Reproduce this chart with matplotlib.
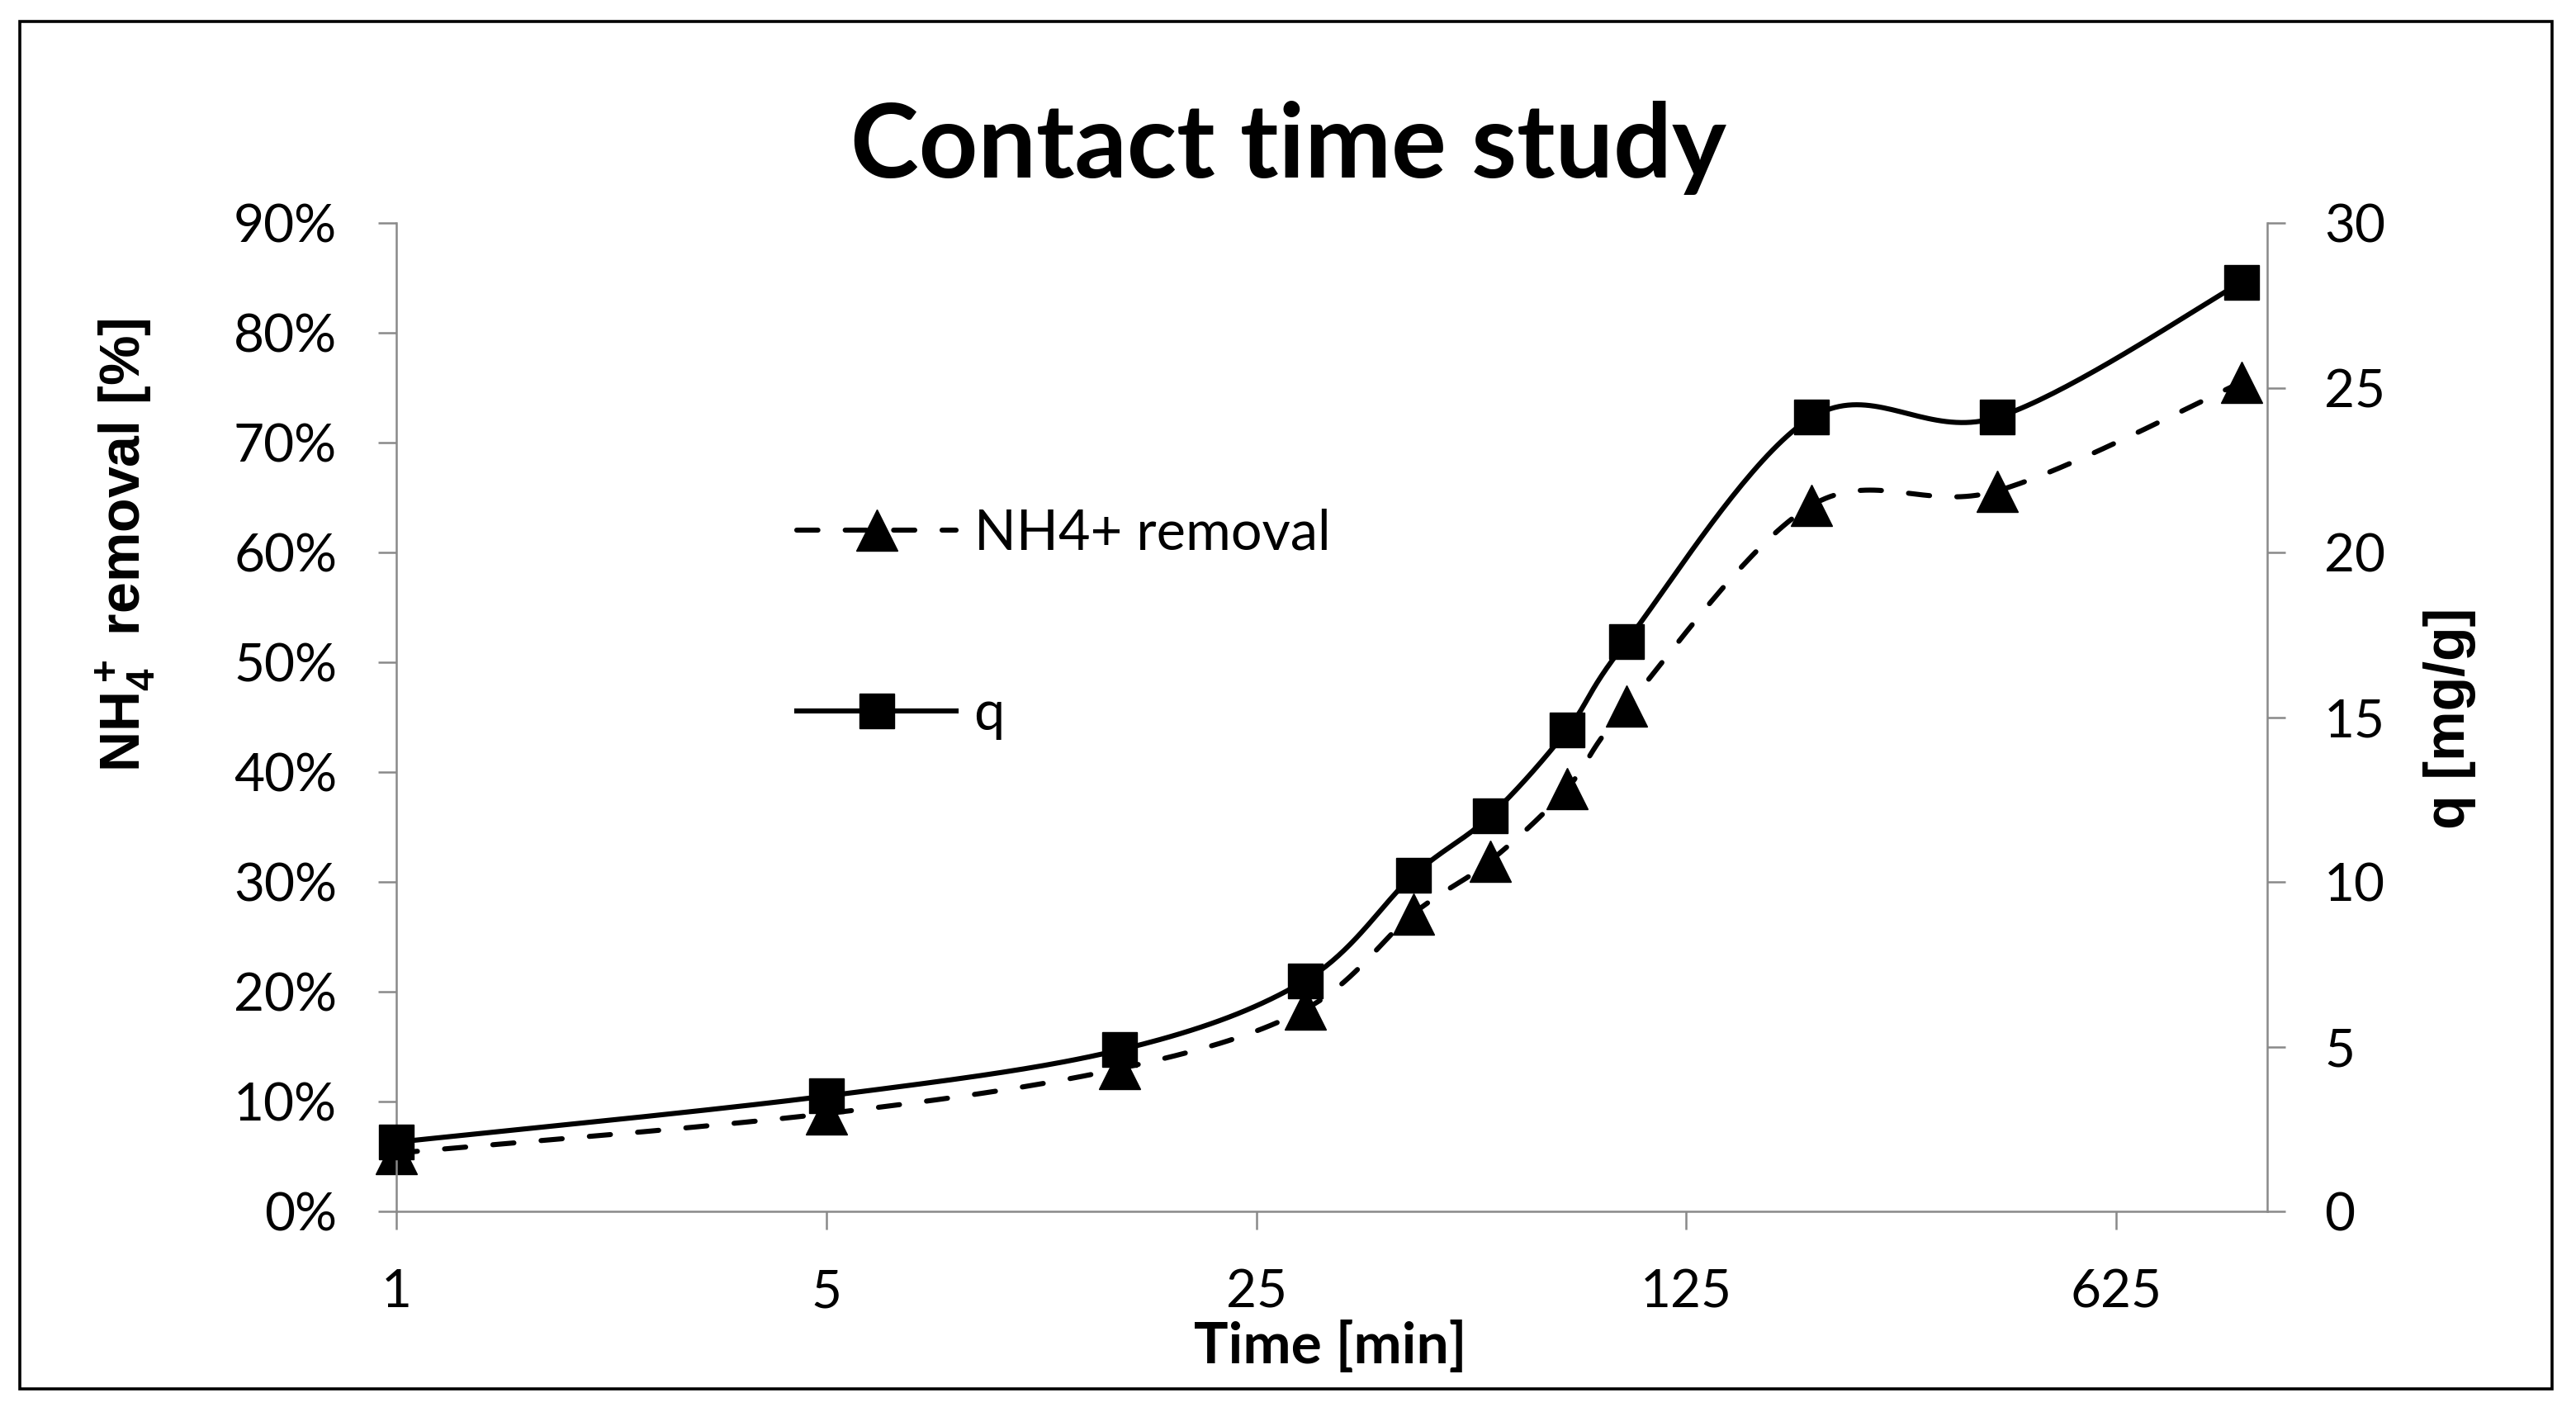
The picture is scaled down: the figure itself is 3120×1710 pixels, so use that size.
"""
Contact time study: NH4+ removal and uptake q versus contact time.
Two y axes (percent removal on the left, q in mg/g on the right),
log-5 time axis, Excel-style smoothed lines.
"""

import numpy as np
import matplotlib
matplotlib.use("Agg")
import matplotlib.pyplot as plt
from matplotlib.patches import Rectangle
from matplotlib.ticker import FixedLocator, FuncFormatter, NullLocator

# ──────────────────────────────────────────
# Data
# ──────────────────────────────────────────
TIME_MIN = [1, 5, 15, 30, 45, 60, 80, 100, 200, 400, 1000]
REMOVAL_PCT = [5.3, 8.9, 13.0, 18.4, 27.1, 31.9, 38.5, 46.0, 64.3, 65.6, 75.5]
Q_MG_G = [2.1, 3.5, 4.9, 7.0, 10.2, 12.0, 14.6, 17.3, 24.1, 24.1, 28.2]

X_TICKS = [1, 5, 25, 125, 625]
LEFT_TICKS = [0, 10, 20, 30, 40, 50, 60, 70, 80, 90]
RIGHT_TICKS = [0, 5, 10, 15, 20, 25, 30]

TITLE = "Contact time study"
X_LABEL = "Time [min]"
LEFT_LABEL = r"NH$\mathregular{_4^+}$ removal [%]"
RIGHT_LABEL = "q [mg/g]"
SERIES_LABELS = ["NH4+ removal", "q"]

# ──────────────────────────────────────────
# Style
# ──────────────────────────────────────────
W_PX, H_PX, DPI = 3120, 1710, 200
AXIS_GREY = "#898989"
TEXT_FONT = "Lato"
LABEL_FONT = "Liberation Sans"

plt.rcParams["font.family"] = [TEXT_FONT, "DejaVu Sans"]
plt.rcParams["mathtext.default"] = "regular"


def excel_smooth(x, y, n=40):
    """Bezier smoothing like Excel's 'smoothed line' (done in log-x space)."""
    p = np.column_stack([np.log10(x), np.asarray(y, dtype=float)])
    segs = []
    for i in range(len(p) - 1):
        p0 = p[i - 1] if i > 0 else p[i]
        p1, p2 = p[i], p[i + 1]
        p3 = p[i + 2] if i + 2 < len(p) else p[i + 1]
        c1 = p1 + (p2 - p0) / 6.0
        c2 = p2 - (p3 - p1) / 6.0
        t = np.linspace(0, 1, n, endpoint=False)[:, None]
        segs.append((1 - t) ** 3 * p1 + 3 * (1 - t) ** 2 * t * c1
                    + 3 * (1 - t) * t ** 2 * c2 + t ** 3 * p2)
    segs.append(p[-1:])
    curve = np.vstack(segs)
    marks = [i * n for i in range(len(p))]
    return 10 ** curve[:, 0], curve[:, 1], marks


def px_x(v):
    return v / W_PX


def px_y(v):
    return 1 - v / H_PX


fig = plt.figure(figsize=(W_PX / DPI, H_PX / DPI), dpi=DPI)
ax = fig.add_axes([px_x(480), px_y(1467), (2746 - 480) / W_PX, (1467 - 270) / H_PX])
ax2 = ax.twinx()

# removal (left axis), dashed with triangles
sx, sy, marks = excel_smooth(TIME_MIN, REMOVAL_PCT)
line_rem, = ax.plot(sx, sy, color="black", lw=2.2, linestyle=(0, (4.2, 5.4)),
                    dash_capstyle="round", marker="^", markersize=18,
                    markevery=marks, markerfacecolor="black",
                    markeredgecolor="black", markeredgewidth=0.5,
                    label=SERIES_LABELS[0], clip_on=False)

# q (right axis), solid with squares
sx, sy, marks = excel_smooth(TIME_MIN, Q_MG_G)
line_q, = ax2.plot(sx, sy, color="black", lw=2.2, linestyle="-",
                   marker="s", markersize=15, markevery=marks,
                   markerfacecolor="black", markeredgecolor="black",
                   markeredgewidth=0.5, label=SERIES_LABELS[1], clip_on=False)

# x axis: log base 5
ax.set_xscale("log", base=5)
ax.set_xlim(1, 1100)
ax.xaxis.set_major_locator(FixedLocator(X_TICKS))
ax.xaxis.set_minor_locator(NullLocator())
ax.xaxis.set_major_formatter(FuncFormatter(lambda v, _: f"{v:g}"))

ax.set_ylim(0, 90)
ax.yaxis.set_major_locator(FixedLocator(LEFT_TICKS))
ax.yaxis.set_major_formatter(FuncFormatter(lambda v, _: f"{v:.0f}%"))
ax2.set_ylim(0, 30)
ax2.yaxis.set_major_locator(FixedLocator(RIGHT_TICKS))
ax2.yaxis.set_major_formatter(FuncFormatter(lambda v, _: f"{v:.0f}"))

for a in (ax, ax2):
    for s in a.spines.values():
        s.set_visible(False)
    a.tick_params(which="both", direction="out", length=7.9, width=0.9,
                  color=AXIS_GREY, labelsize=23, labelcolor="black")
ax.spines["left"].set_visible(True)
ax.spines["bottom"].set_visible(True)
ax2.spines["right"].set_visible(True)
for s in (ax.spines["left"], ax.spines["bottom"], ax2.spines["right"]):
    s.set_color(AXIS_GREY)
    s.set_linewidth(0.9)
ax.tick_params(axis="y", pad=18)
ax.tick_params(axis="x", pad=17)
ax2.tick_params(axis="y", pad=17)

# legend inside the plot, no frame, wide row spacing
ax2.legend(handles=[line_rem, line_q], labels=SERIES_LABELS,
           loc="center left", bbox_to_anchor=(0.214, 0.594),
           frameon=False, fontsize=24, handlelength=2.9, handletextpad=0.32,
           labelspacing=2.35, borderpad=0, borderaxespad=0, numpoints=1)

# titles and axis labels
fig.text(px_x(1560), px_y(215), TITLE, ha="center", va="baseline",
         fontsize=45, fontweight="bold")
fig.text(px_x(1611), px_y(1651), X_LABEL, ha="center", va="baseline",
         fontsize=25, fontweight="bold")
fig.text(px_x(152), px_y(660), LEFT_LABEL, ha="center", va="center",
         rotation=90, fontsize=24.5, fontweight="bold",
         family=[LABEL_FONT, "DejaVu Sans"])
fig.text(px_x(2967), px_y(870), RIGHT_LABEL, ha="center", va="center",
         rotation=90, fontsize=24.5, fontweight="bold",
         family=[LABEL_FONT, "DejaVu Sans"])

# outer frame round the whole chart
fig.patches.append(Rectangle((px_x(24), px_y(1682)), (3091 - 24) / W_PX,
                             (1682 - 26) / H_PX, transform=fig.transFigure,
                             fill=False, edgecolor="black", linewidth=1.3))

fig.savefig("out.png", dpi=DPI)
